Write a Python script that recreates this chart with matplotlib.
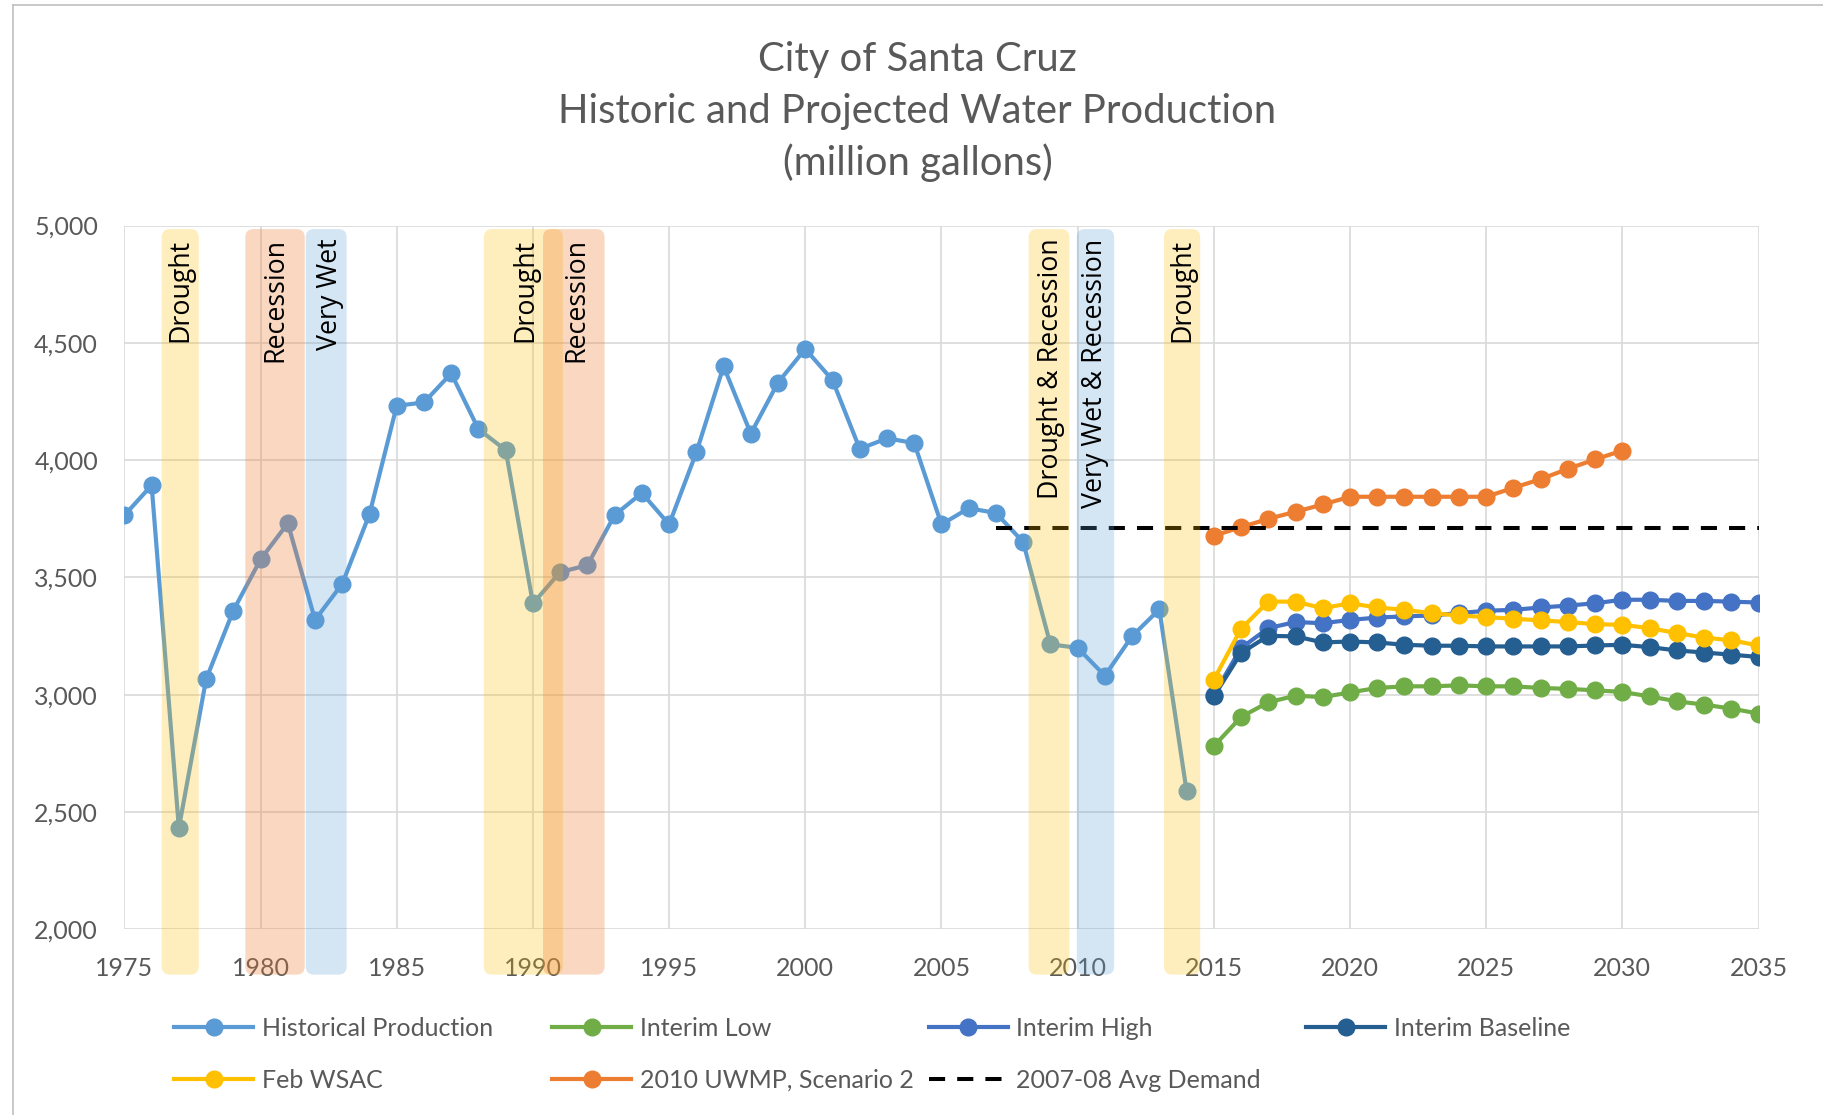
import matplotlib
matplotlib.use("Agg")
import matplotlib.pyplot as plt
from matplotlib.patches import FancyBboxPatch
from matplotlib.lines import Line2D

# ---------------- data ----------------
hist_years = list(range(1975, 2015))
hist_values = [3765, 3893, 2432, 3066, 3359, 3577, 3731, 3319, 3473, 3770,
               4232, 4246, 4370, 4132, 4043, 3389, 3523, 3552, 3766, 3860,
               3726, 4033, 4400, 4113, 4331, 4474, 4341, 4048, 4093, 4073,
               3726, 3795, 3775, 3651, 3215, 3200, 3081, 3250, 3364, 2590]

proj_years = list(range(2015, 2036))
interim_low = [2781, 2905, 2968, 2996, 2990, 3010, 3029, 3036, 3036, 3040, 3036,
               3036, 3029, 3025, 3019, 3012, 2993, 2972, 2958, 2941, 2920]
interim_high = [3000, 3199, 3284, 3310, 3305, 3319, 3329, 3334, 3338, 3348, 3358,
                3362, 3372, 3380, 3390, 3405, 3405, 3400, 3400, 3397, 3393]
interim_base = [2993, 3178, 3251, 3249, 3223, 3227, 3223, 3213, 3209, 3209, 3206,
                3206, 3206, 3206, 3210, 3213, 3203, 3189, 3180, 3171, 3161]
feb_wsac = [3064, 3281, 3397, 3397, 3369, 3390, 3372, 3362, 3348, 3338, 3331,
            3324, 3317, 3310, 3301, 3298, 3284, 3263, 3244, 3232, 3210]

uwmp_years = list(range(2015, 2031))
uwmp = [3678, 3714, 3750, 3780, 3811, 3844, 3844, 3844, 3844, 3844, 3844,
        3882, 3919, 3963, 4003, 4041]

avg_years = [2007, 2035]
avg_demand = [3709, 3709]

# shaded periods
band_start = [1976.37, 1979.44, 1981.66, 1988.2, 1990.37, 2008.2, 2009.97, 2013.17]
band_end = [1977.73, 1981.62, 1983.16, 1991.1, 1992.63, 2009.7, 2011.34, 2014.5]
band_label_x = [1977.05, 1980.55, 1982.56, 1989.73, 1991.6, 2009.03, 2010.65, 2013.86]
band_labels = ["Drought", "Recession", "Very Wet", "Drought", "Recession",
               "Drought & Recession", "Very Wet & Recession", "Drought"]
band_kind = ["drought", "recession", "wet", "drought", "recession",
             "drought", "wet", "drought"]

x_ticks = list(range(1975, 2036, 5))
y_ticks = [2000, 2500, 3000, 3500, 4000, 4500, 5000]

# ---------------- style ----------------
FONT = ["Lato", "DejaVu Sans"]
LABEL_FONT = ["Open Sans", "DejaVu Sans"]
GRAY = "#595959"
band_colors = {"drought": ("#FFC000", 0.26), "recession": ("#ED7D31", 0.30),
               "wet": ("#5B9BD5", 0.26)}

fig = plt.figure(figsize=(18.24, 11.15), dpi=100)
ax = fig.add_axes([0.0682, 0.1665, 0.9641 - 0.0682, 0.7977 - 0.1665])

lw = 3.0
ms = 12
h_hist, = ax.plot(hist_years, hist_values, color="#5B9BD5", lw=lw, marker="o", ms=ms,
                  zorder=2, label="Historical Production")
h_low, = ax.plot(proj_years, interim_low, color="#70AD47", lw=lw, marker="o", ms=ms,
                 zorder=2, label="Interim Low")
h_high, = ax.plot(proj_years, interim_high, color="#4472C4", lw=lw, marker="o", ms=ms,
                  zorder=2, label="Interim High")
h_base, = ax.plot(proj_years, interim_base, color="#255E91", lw=lw, marker="o", ms=ms,
                  zorder=2.1, label="Interim Baseline")
h_feb, = ax.plot(proj_years, feb_wsac, color="#FFC000", lw=lw, marker="o", ms=ms,
                 zorder=2.2, label="Feb WSAC")
h_uwmp, = ax.plot(uwmp_years, uwmp, color="#ED7D31", lw=lw, marker="o", ms=ms,
                  zorder=2, label="2010 UWMP, Scenario 2")
h_avg, = ax.plot(avg_years, avg_demand, color="black", lw=2.9, ls=(0, (4, 3)),
                 zorder=2.3, label="2007-08 Avg Demand")

ax.set_xlim(1975, 2035)
ax.set_ylim(2000, 5000)

# aspect between y data units and x data units (per pixel) for rounded corners
ax_w_px = (0.9641 - 0.0682) * 1824
ax_h_px = (0.7977 - 0.1665) * 1115
aspect = (3000 / ax_h_px) / (60 / ax_w_px)

# bands (drawn over the lines, semi-transparent, extending below the axis)
band_top, band_bottom = 4985, 1807
for s, e, lx, lab, kind in zip(band_start, band_end, band_label_x, band_labels, band_kind):
    c, a = band_colors[kind]
    ax.add_patch(FancyBboxPatch((s, band_bottom), e - s, band_top - band_bottom,
                                boxstyle="round,pad=0,rounding_size=0.3",
                                mutation_aspect=aspect,
                                facecolor=c, alpha=a, edgecolor="none", zorder=3,
                                clip_on=False))
    ax.text(lx, 4945, lab, rotation=90, ha="center", va="top", fontsize=19.3,
            family=LABEL_FONT, color="black", zorder=4)

ax.set_xticks(x_ticks)
ax.set_yticks(y_ticks)
ax.set_yticklabels([f"{v:,}" for v in y_ticks])
ax.grid(True, color="#D9D9D9", lw=1.2, zorder=0)
ax.set_axisbelow(True)
for sp in ax.spines.values():
    sp.set_visible(False)
ax.tick_params(axis="both", length=0, labelsize=18, labelcolor=GRAY)
ax.tick_params(axis="x", pad=20)
ax.tick_params(axis="y", pad=19)
for lab in ax.get_xticklabels() + ax.get_yticklabels():
    lab.set_family(FONT)

# title
for y, t in zip([0.947, 0.900, 0.854],
                ["City of Santa Cruz", "Historic and Projected Water Production",
                 "(million gallons)"]):
    fig.text(0.503, y, t, ha="center", va="center", fontsize=28.8, color=GRAY,
             family=FONT)

# legend: 4 columns placed individually
cols = [([h_hist, h_feb], 174.4), ([h_low, h_uwmp], 552.4),
        ([h_high, h_avg], 928.6), ([h_base], 1306.0)]
for handles, xpx in cols:
    fig.legend(handles=handles, labels=[h.get_label() for h in handles],
               loc="upper left", bbox_to_anchor=(xpx / 1824, 1 - 1017 / 1115),
               frameon=False, borderpad=0, borderaxespad=0,
               handlelength=3.16, handletextpad=0.35, labelspacing=1.16,
               prop={"family": FONT, "size": 18}, labelcolor=GRAY)

# chart border (left and top)
fig.add_artist(Line2D([13 / 1824, 13 / 1824], [0, 1 - 5 / 1115], transform=fig.transFigure,
                      color="#BFBFBF", lw=1.2))
fig.add_artist(Line2D([13 / 1824, 1], [1 - 5 / 1115, 1 - 5 / 1115], transform=fig.transFigure,
                      color="#BFBFBF", lw=1.2))

fig.savefig("out.png", dpi=100, facecolor="white")
